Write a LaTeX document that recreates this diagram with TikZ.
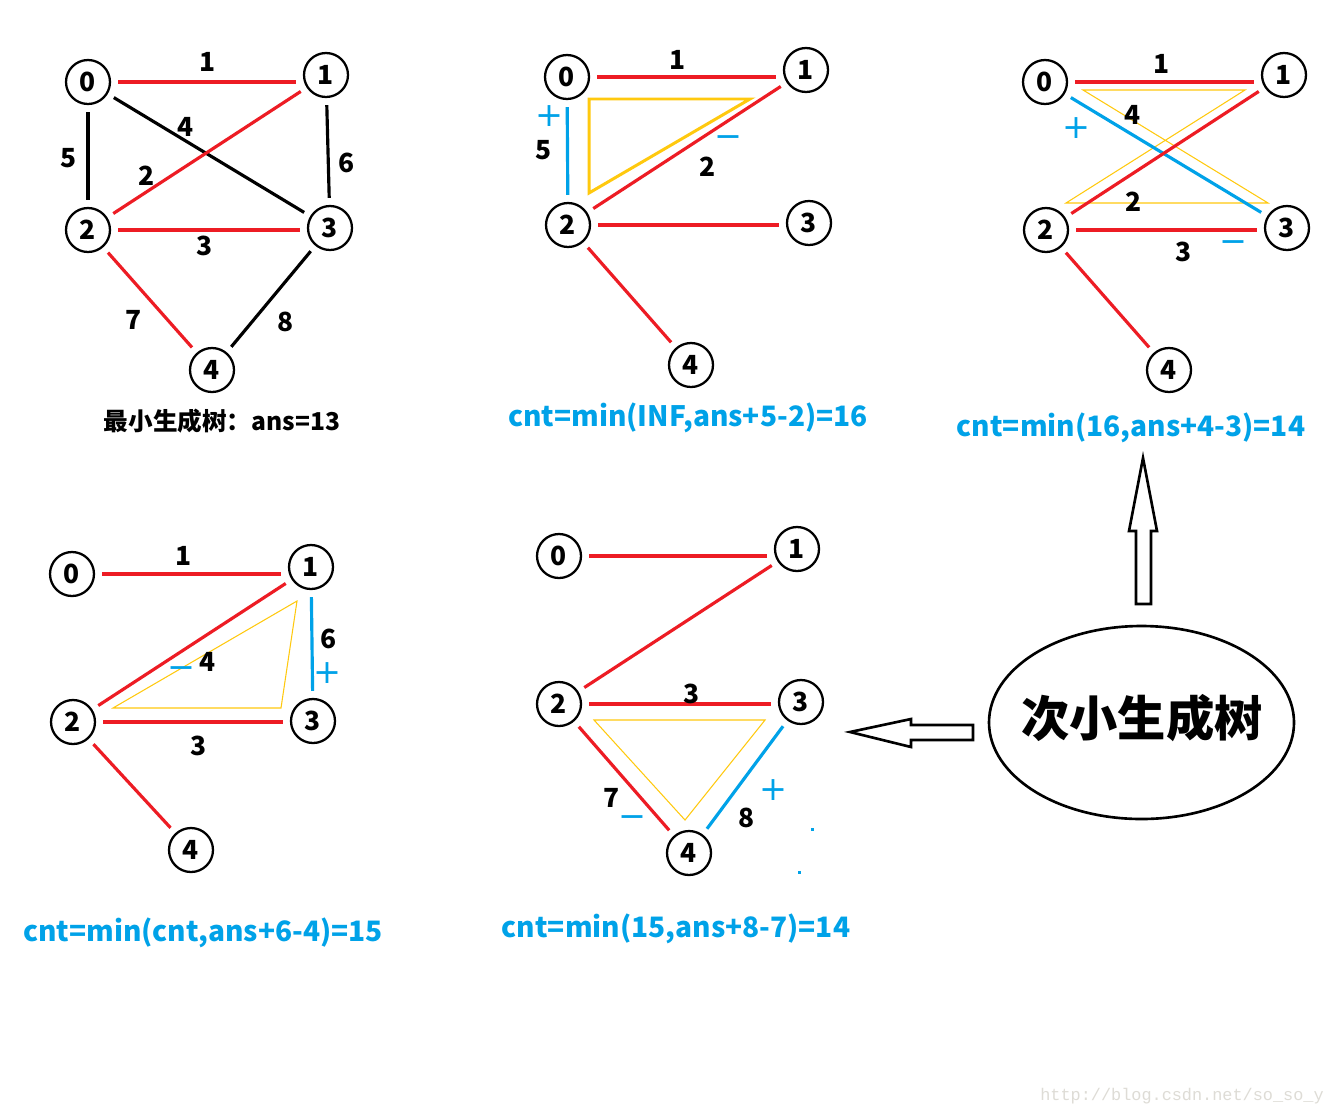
\documentclass[tikz,border=0pt]{standalone}
\usepackage{fontspec}
\setmainfont{Noto Sans CJK SC}
\newfontfamily\symfont{DejaVu Sans}
\newfontfamily\wmfont{Liberation Mono}
\definecolor{pred}{RGB}{237,28,36}
\definecolor{pblue}{RGB}{0,162,232}
\definecolor{pyel}{RGB}{255,201,14}
\definecolor{wmgray}{RGB}{222,220,214}
\begin{document}
\begin{tikzpicture}[x=0.02cm,y=-0.02cm,
  vnode/.style={circle,draw,line width=1.3pt,minimum size=0.88cm,inner sep=0pt,font=\fontsize{15}{15}\selectfont\bfseries},
  wlabel/.style={inner sep=0pt,font=\fontsize{15}{15}\selectfont\bfseries},
  edgebase/.style={line width=1.8pt,shorten <=4pt,shorten >=4pt},
  redE/.style={edgebase,draw=pred},
  blackE/.style={edgebase,draw=black},
  blueE/.style={edgebase,draw=pblue},
  thickY/.style={draw=pyel,line width=1.7pt,line join=miter},
  thinY/.style={draw=pyel,line width=0.6pt},
  sign/.style={text=pblue,inner sep=0pt,font=\symfont\fontsize{19}{19}\selectfont},
  bluecap/.style={text=pblue,inner sep=0pt,font=\fontsize{16}{16}\selectfont\bfseries},
  bigarrow/.style={draw=black,line width=1.5pt,fill=white,line join=miter}
]
\useasboundingbox[fill=white] (0,0) rectangle (1334,1116);

% ---------- Panel 1 ----------
\node[vnode] (a0) at (88,82) {0};
\node[vnode] (a1) at (326,75) {1};
\node[vnode] (a2) at (88,230) {2};
\node[vnode] (a3) at (330,228) {3};
\node[vnode] (a4) at (212,370) {4};
\draw[redE] (a0.east) -- (a0.east -| a1.west);
\draw[blackE] (a0) -- (a3);
\draw[redE] (a1) -- (a2);
\draw[blackE] (a0) -- (a2);
\draw[blackE] (a1) -- (a3);
\draw[redE] (a2.east) -- (a2.east -| a3.west);
\draw[redE] (a2) -- (a4);
\draw[blackE] (a3) -- (a4);
\node[wlabel] (la1) at (208,62) {1};
\node[wlabel] (la4) at (186,127) {4};
\node[wlabel] (la2) at (147,176) {2};
\node[wlabel] (la5) at (69,158) {5};
\node[wlabel] (la6) at (347,163) {6};
\node[wlabel] (la3) at (205,246) {3};
\node[wlabel] (la7) at (134,320) {7};
\node[wlabel] (la8) at (286,322) {8};
\node[inner sep=0pt,font=\fontsize{14}{14}\selectfont\bfseries] (capa) at (222,421) {最小生成树：ans=13};

% ---------- Panel 2 ----------
\draw[thickY] (589,99) -- (750,99) -- (589,193) -- cycle;
\node[vnode] (b0) at (567,77) {0};
\node[vnode] (b1) at (806,70) {1};
\node[vnode] (b2) at (568,225) {2};
\node[vnode] (b3) at (809,223) {3};
\node[vnode] (b4) at (691,365) {4};
\draw[redE] (b0.east) -- (b0.east -| b1.west);
\draw[redE] (b1) -- (b2);
\draw[blueE] (b0) -- (b2);
\draw[redE] (b2.east) -- (b2.east -| b3.west);
\draw[redE] (b2) -- (b4);
\node[wlabel] (lb1) at (678,60) {1};
\node[wlabel] (lb5) at (544,150) {5};
\node[wlabel] (lb2) at (708,167) {2};
\node[sign] (pb) at (549,116) {+};
\node[sign] (mb) at (728,142) {−};
\node[bluecap] (capb) at (688,418) {cnt=min(INF,ans+5-2)=16};

% ---------- Panel 3 ----------
\draw[thinY] (1083,90) -- (1245,90) -- (1066,203) -- (1268,203) -- cycle;
\node[vnode] (c0) at (1045,82) {0};
\node[vnode] (c1) at (1284,75) {1};
\node[vnode] (c2) at (1046,230) {2};
\node[vnode] (c3) at (1287,228) {3};
\node[vnode] (c4) at (1169,370) {4};
\draw[redE] (c0.east) -- (c0.east -| c1.west);
\draw[blueE] (c0) -- (c3);
\draw[redE] (c1) -- (c2);
\draw[redE] (c2.east) -- (c2.east -| c3.west);
\draw[redE] (c2) -- (c4);
\node[wlabel] (lc1) at (1162,64) {1};
\node[wlabel] (lc4) at (1133,115) {4};
\node[wlabel] (lc2) at (1134,202) {2};
\node[wlabel] (lc3) at (1184,252) {3};
\node[sign] (pc) at (1076,128) {+};
\node[sign] (mc) at (1233,247) {−};
\node[bluecap] (capc) at (1131,428) {cnt=min(16,ans+4-3)=14};

% ---------- Panel 4 ----------
\draw[thinY] (297,601) -- (281,708) -- (113,708) -- cycle;
\node[vnode] (d0) at (72,574) {0};
\node[vnode] (d1) at (311,567) {1};
\node[vnode] (d2) at (73,722) {2};
\node[vnode] (d3) at (313,721) {3};
\node[vnode] (d4) at (191,850) {4};
\draw[redE] (d0.east) -- (d0.east -| d1.west);
\draw[redE] (d1) -- (d2);
\draw[blueE] (d1) -- (d3);
\draw[redE] (d2.east) -- (d2.east -| d3.west);
\draw[redE] (d2) -- (d4);
\node[wlabel] (ld1) at (184,556) {1};
\node[wlabel] (ld6) at (329,639) {6};
\node[wlabel] (ld4) at (208,662) {4};
\node[wlabel] (ld3) at (199,746) {3};
\node[sign] (md) at (181,673) {−};
\node[sign] (pd) at (327,673) {+};
\node[bluecap] (capd) at (203,933) {cnt=min(cnt,ans+6-4)=15};

% ---------- Panel 5 ----------
\draw[thinY] (594,720) -- (765,720) -- (685,820) -- cycle;
\node[vnode] (e0) at (559,556) {0};
\node[vnode] (e1) at (797,549) {1};
\node[vnode] (e2) at (559,704) {2};
\node[vnode] (e3) at (801,702) {3};
\node[vnode] (e4) at (689,853) {4};
\draw[redE] (e0.east) -- (e0.east -| e1.west);
\draw[redE] (e1) -- (e2);
\draw[redE] (e2.east) -- (e2.east -| e3.west);
\draw[redE] (e2) -- (e4);
\draw[blueE] (e3) -- (e4);
\node[wlabel] (le3) at (692,694) {3};
\node[wlabel] (le7) at (612,798) {7};
\node[wlabel] (le8) at (747,818) {8};
\node[sign] (pe) at (773,790) {+};
\node[sign] (me) at (632,822) {−};
\fill[pblue] (810.5,827.5) rectangle (813.5,830.5);
\fill[pblue] (797.5,870.5) rectangle (800.5,873.5);
\node[bluecap] (cape) at (676,929) {cnt=min(15,ans+8-7)=14};

% ---------- Ellipse and arrows ----------
\draw[line width=1.5pt] (1141.5,722.5) ellipse [x radius=152.5, y radius=96.5];
\node[inner sep=0pt,font=\fontsize{27.5}{28}\selectfont\bfseries] (title) at (1142,718) {次小生成树};
\draw[bigarrow] (1143,458) -- (1157,531) -- (1151,531) -- (1151,604) -- (1136,604) -- (1136,531) -- (1129,531) -- cycle;
\draw[bigarrow] (850,732) -- (911,719) -- (911,725) -- (973,725) -- (973,740) -- (911,740) -- (911,747) -- cycle;

% ---------- Watermark ----------
\node[inner sep=0pt,text=wmgray,font=\wmfont\fontsize{9.6}{10}\selectfont] (wm) at (1182,1096) {http://blog.csdn.net/so\_so\_y};
\end{tikzpicture}
\end{document}
